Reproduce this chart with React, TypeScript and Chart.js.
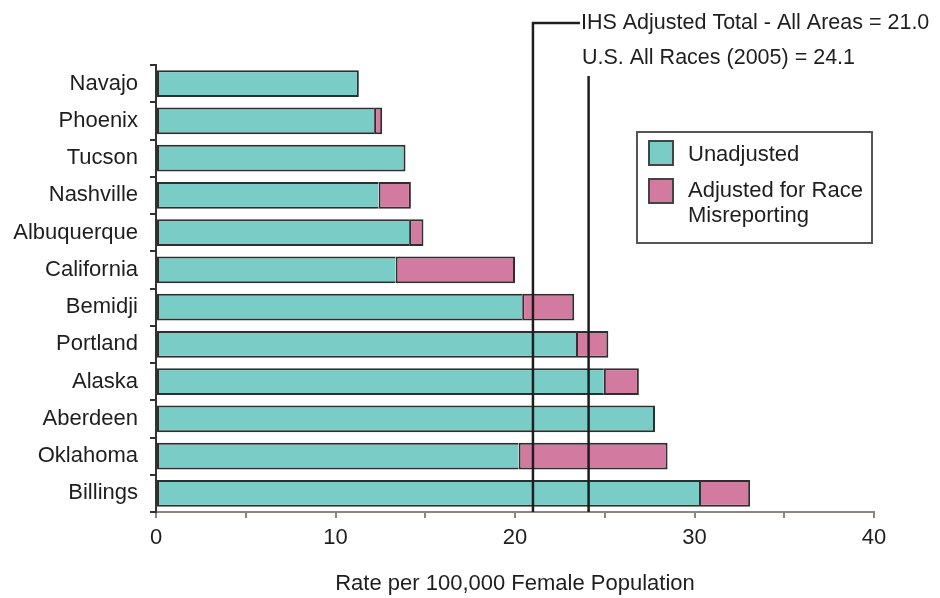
import React, { useEffect, useRef } from 'react';
import { Chart, registerables } from 'chart.js';

Chart.register(...registerables);

const categories = ['Navajo', 'Phoenix', 'Tucson', 'Nashville', 'Albuquerque', 'California', 'Bemidji', 'Portland', 'Alaska', 'Aberdeen', 'Oklahoma', 'Billings'];
const unadjusted = [11.3, 12.15, 13.9, 12.4, 14.1, 13.35, 20.4, 23.4, 24.95, 27.8, 20.2, 30.25];
const adjustedTotal = [11.3, 12.6, 13.9, 14.2, 14.9, 20.0, 23.3, 25.2, 26.9, 27.8, 28.5, 33.1];
const xTickValues = [0, 10, 20, 30, 40];
const refValues = [21.0, 24.1];
const refLabels = ['IHS Adjusted Total - All Areas = 21.0', 'U.S. All Races (2005) = 24.1'];
const seriesNames = ['Unadjusted', 'Adjusted for Race Misreporting'];
const legendLines = [['Unadjusted'], ['Adjusted for Race', 'Misreporting']];
const axisTitle = 'Rate per 100,000 Female Population';

const TEAL = '#7acdc6';
const PINK = '#d27a9f';
const EDGE = '#2e2e2e';
const TEXT = '#1e1e1e';
const FONT = '"Liberation Sans", Arial, sans-serif';

const overlayPlugin = {
  id: 'overlay',
  afterDatasetsDraw(chart: any) {
    const { ctx, chartArea, scales } = chart;
    const x = scales.x;
    ctx.save();
    ctx.strokeStyle = '#1e1e1e';
    ctx.lineWidth = 2.5;
    const x1 = x.getPixelForValue(refValues[0]);
    const x2 = x.getPixelForValue(refValues[1]);
    const y1 = chartArea.top - 42;
    ctx.beginPath();
    ctx.moveTo(x1, chartArea.bottom);
    ctx.lineTo(x1, y1);
    ctx.lineTo(x1 + 47, y1);
    ctx.stroke();
    ctx.beginPath();
    ctx.moveTo(x2, chartArea.bottom);
    ctx.lineTo(x2, chartArea.top + 11);
    ctx.stroke();

    ctx.font = `21.5px ${FONT}`;
    ctx.fillStyle = TEXT;
    ctx.textAlign = 'left';
    ctx.textBaseline = 'middle';
    ctx.fillText(refLabels[0], x1 + 48, y1);
    ctx.fillText(refLabels[1], x1 + 49, y1 + 35);

    // legend box
    ctx.font = `22px ${FONT}`;
    const lx = 637, ly = 132, lw = 235, lh = 111;
    ctx.fillStyle = '#ffffff';
    ctx.fillRect(lx, ly, lw, lh);
    ctx.strokeStyle = '#555';
    ctx.lineWidth = 2;
    ctx.strokeRect(lx, ly, lw, lh);
    const swatches = [TEAL, PINK];
    const swY = [141, 179];
    const textY = [[155], [191, 216]];
    swatches.forEach((c, i) => {
      ctx.fillStyle = c;
      ctx.fillRect(649, swY[i], 24, 24);
      ctx.strokeStyle = '#444';
      ctx.lineWidth = 2;
      ctx.strokeRect(649, swY[i], 24, 24);
      ctx.fillStyle = TEXT;
      legendLines[i].forEach((t, j) => ctx.fillText(t, 688, textY[i][j]));
    });
    ctx.restore();
  },
};

export default function App() {
  const ref = useRef<HTMLCanvasElement>(null);
  useEffect(() => {
    if (!ref.current) return;
    Chart.defaults.font.family = FONT;
    const diffs = adjustedTotal.map((t, i) => {
      const d = +(t - unadjusted[i]).toFixed(2);
      return d > 0 ? d : null;
    });
    const chart = new Chart(ref.current, {
      type: 'bar',
      data: {
        labels: categories,
        datasets: [
          {
            label: seriesNames[0],
            data: unadjusted,
            backgroundColor: TEAL,
            borderColor: EDGE,
            borderWidth: (c: any) => ({ top: 2, bottom: 2, left: 2, right: diffs[c.dataIndex] ? 0 : 2 }),
            borderSkipped: false,
            barPercentage: 0.72,
            categoryPercentage: 1,
          },
          {
            label: seriesNames[1],
            data: diffs,
            backgroundColor: PINK,
            borderColor: EDGE,
            borderWidth: { top: 2, bottom: 2, left: 2, right: 2 },
            borderSkipped: false,
            barPercentage: 0.72,
            categoryPercentage: 1,
          },
        ],
      },
      options: {
        indexAxis: 'y',
        responsive: false,
        animation: false,
        layout: { padding: { top: 65, right: 66, bottom: 0, left: 0 } },
        plugins: { legend: { display: false }, tooltip: { enabled: false }, title: { display: false } },
        scales: {
          x: {
            stacked: true,
            min: 0,
            max: 40,
            afterFit: (s: any) => { s.height = 86; },
            afterBuildTicks: (s: any) => {
              const t: any[] = [];
              for (let v = 0; v <= 40; v += 5) t.push({ value: v });
              s.ticks = t;
            },
            ticks: {
              autoSkip: false,
              maxRotation: 0,
              padding: 7,
              color: TEXT,
              font: { size: 22 },
              callback: (v: any) => (xTickValues.includes(Number(v)) ? String(v) : ''),
            },
            grid: { drawOnChartArea: false, tickLength: 6, color: '#8c8680', lineWidth: 2 },
            border: { color: '#8c8680', width: 2 },
            title: { display: true, text: axisTitle, color: TEXT, font: { size: 22 }, padding: { top: 0, bottom: 1 } },
          },
          y: {
            stacked: true,
            afterFit: (s: any) => { s.width = 156; },
            ticks: { color: TEXT, font: { size: 22 }, padding: 12 },
            grid: { drawOnChartArea: false, tickLength: 6, color: '#333', lineWidth: 2, offset: true },
            border: { color: '#333', width: 2 },
          },
        },
      },
      plugins: [overlayPlugin],
    });
    return () => chart.destroy();
  }, []);
  return (
    <div style={{ position: 'fixed', left: 0, top: 0, width: 940, height: 598, background: '#fff' }}>
      <canvas ref={ref} width={940} height={598} />
    </div>
  );
}
